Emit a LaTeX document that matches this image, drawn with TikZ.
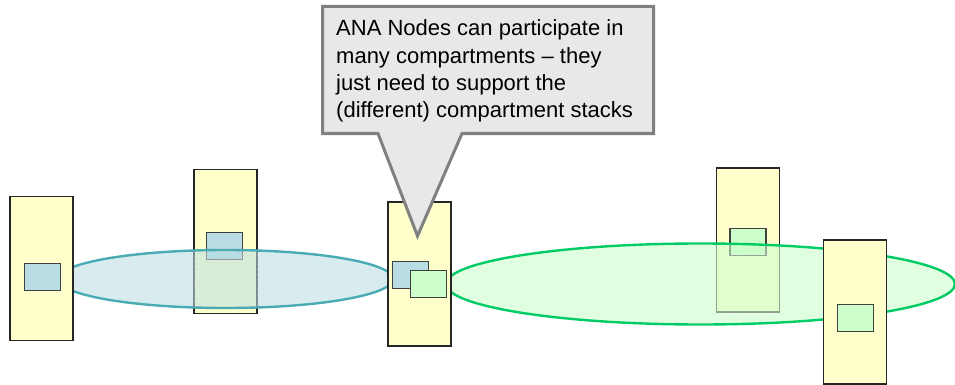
\documentclass[tikz,border=0pt]{standalone}
\usepackage{fontspec}
\setmainfont{Liberation Sans}
\definecolor{hostyellow}{HTML}{FFFFCC}
\definecolor{stackblue}{HTML}{B8DDE2}
\definecolor{stackgreen}{HTML}{CCFFCC}
\definecolor{ringblue}{HTML}{4AABB5}
\definecolor{ringgreen}{HTML}{00CC66}
\definecolor{calloutfill}{HTML}{E8E8E8}
\definecolor{calloutline}{HTML}{808080}
\tikzset{
  host/.style={draw=black!85, fill=hostyellow, line width=1.1pt, minimum width=63pt, minimum height=144pt, inner sep=0pt, outer sep=0pt},
  stackb/.style={draw=black!75, fill=stackblue, line width=1.2pt, minimum width=36pt, minimum height=27pt, inner sep=0pt, outer sep=0pt},
  stackg/.style={draw=black!75, fill=stackgreen, line width=1.2pt, minimum width=36pt, minimum height=27pt, inner sep=0pt, outer sep=0pt},
  hidden/.style={draw=black!40, densely dashed, line width=0.8pt},
  ringb/.style={draw=ringblue, line width=2.4pt, fill=stackblue, fill opacity=0.55},
  ringg/.style={draw=ringgreen, line width=2.4pt, fill=stackgreen, fill opacity=0.6},
  calloutbox/.style={draw=calloutline, fill=calloutfill, line width=3pt, line join=miter},
}
\begin{document}
\begin{tikzpicture}[x=1pt, y=-1pt]
\useasboundingbox (0,0) rectangle (955,385);
% hosts behind the compartments
\node[host] (h2) at (225.5,241.5) {};
\node[stackb] (s2) at (224.5,245.8) {};
\node[host] (h4) at (748,240) {};
\node[stackg] (s4) at (748,241.8) {};
% compartments
\path[ringb] (225.5,279) ellipse [x radius=167.5, y radius=29];
\path[ringg] (700.5,284) ellipse [x radius=254.5, y radius=40.5];
% hidden outlines seen through the compartments
\begin{scope}
  \clip (225.5,279) ellipse [x radius=166, y radius=27.8];
  \draw[hidden] (h2.north west) rectangle (h2.south east);
  \draw[hidden] (s2.north west) rectangle (s2.south east);
\end{scope}
\begin{scope}
  \clip (700.5,284) ellipse [x radius=253, y radius=39.3];
  \draw[hidden] (h4.north west) rectangle (h4.south east);
  \draw[hidden] (s4.north west) rectangle (s4.south east);
\end{scope}
% hosts in front
\node[host] (h1) at (41.5,268.5) {};
\node[stackb] (s1) at (42.7,277.2) {};
\node[host] (h3) at (419.5,274) {};
\node[stackb] (s3a) at (410.5,275.3) {};
\node[stackg] (s3b) at (428.7,284.3) {};
\node[host] (h5) at (855.2,312) {};
\node[stackg] (s5) at (855.5,318) {};
% callout
\coordinate (tip) at (417.5,236);
\draw[calloutbox] (322.5,6.5) -- (653.5,6.5) -- (653.5,133.5) -- (462,133.5) -- (tip) -- (378,133.5) -- (322.5,133.5) -- cycle;
\node[anchor=north west, align=left, inner sep=0pt, font=\fontsize{22}{27.3}\selectfont] (note) at (336,19.7)
  {ANA Nodes can participate in\\many compartments -- they\\just need to support the\\(different) compartment stacks};
\end{tikzpicture}
\end{document}
